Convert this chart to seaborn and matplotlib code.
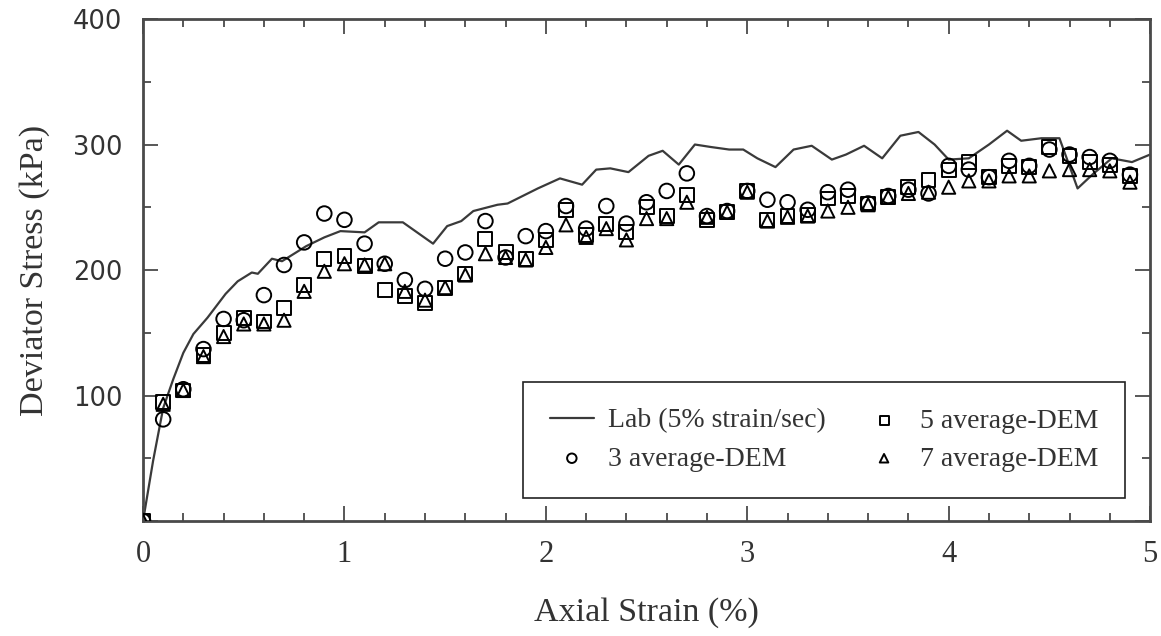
import numpy as np
import pandas as pd
import matplotlib
matplotlib.use("Agg")
import matplotlib.pyplot as plt
import seaborn as sns

# ---------------- data ----------------
strain = [round(0.1 * i, 1) for i in range(50)]

avg3 = [0, 81, 105, 137, 161, 160, 180, 204, 222, 245,
        240, 221, 205, 192, 185, 209, 214, 239, 210, 227,
        231, 251, 233, 251, 237, 254, 263, 277, 243, 247,
        263, 256, 254, 248, 262, 264, 253, 259, 264, 261,
        283, 280, 274, 287, 283, 296, 292, 290, 287, 276]

avg5 = [0, 95, 104, 132, 150, 162, 159, 170, 188, 209,
        211, 203, 184, 179, 174, 186, 197, 225, 214, 209,
        224, 248, 228, 237, 230, 250, 243, 260, 240, 246,
        263, 240, 243, 244, 257, 259, 253, 258, 266, 272,
        280, 286, 274, 283, 282, 298, 291, 286, 284, 275]

avg7 = [0, 93, 104, 131, 147, 157, 157, 160, 183, 199,
        205, 204, 205, 183, 176, 186, 196, 213, 210, 208,
        218, 236, 226, 233, 224, 241, 241, 254, 242, 246,
        262, 239, 242, 243, 247, 250, 252, 258, 261, 262,
        266, 271, 271, 275, 275, 279, 280, 280, 279, 270]

lab_strain = [0, 0.05, 0.1, 0.15, 0.2, 0.25, 0.32, 0.41, 0.47, 0.54,
              0.57, 0.64, 0.69, 0.81, 0.9, 0.98, 1.10, 1.17, 1.29, 1.44,
              1.51, 1.58, 1.64, 1.76, 1.81, 1.96, 2.07, 2.18, 2.25, 2.32,
              2.41, 2.51, 2.58, 2.66, 2.74, 2.82, 2.91, 2.98, 3.05, 3.14,
              3.23, 3.32, 3.42, 3.49, 3.58, 3.67, 3.76, 3.85, 3.93, 4.00,
              4.10, 4.20, 4.29, 4.36, 4.46, 4.55, 4.64, 4.72, 4.81, 4.91,
              5.0]
lab_stress = [0, 48, 90, 113, 134, 149, 162, 181, 191, 198,
              197, 209, 207, 219, 226, 231, 230, 238, 238, 221,
              235, 239, 247, 252, 253, 265, 273, 268, 280, 281,
              278, 291, 295, 284, 300, 298, 296, 296, 289, 282,
              296, 299, 288, 292, 299, 289, 307, 310, 300, 288,
              289, 300, 311, 303, 305, 305, 265, 277, 289, 286,
              292]

x_ticks = [0, 1, 2, 3, 4, 5]
y_ticks = [0, 100, 200, 300, 400]
y_tick_labels = ["", "100", "200", "300", "400"]

lab_label = "Lab (5% strain/sec)"
labels = ["3 average-DEM", "5 average-DEM", "7 average-DEM"]

# ---------------- style ----------------
sns.set_theme(style="ticks")
plt.rcParams["font.family"] = ["Liberation Serif", "DejaVu Serif"]

SPINE = "#4a4a4a"
TEXT = "#333333"

fig = plt.figure(figsize=(11.61, 6.36), dpi=100)
ax = fig.add_axes([0.1232, 0.1808, 0.8674, 0.7893])

df_lab = pd.DataFrame({"strain": lab_strain, "stress": lab_stress})
sns.lineplot(data=df_lab, x="strain", y="stress", ax=ax, color="#3a3a3a",
             linewidth=1.6, label=lab_label, sort=False)

df = pd.DataFrame({"strain": strain, "a3": avg3, "a5": avg5, "a7": avg7})
sns.scatterplot(data=df, x="strain", y="a3", ax=ax, marker="o", s=110,
                facecolors="none", edgecolors="black", linewidths=1.4,
                label=labels[0], zorder=3)
sns.scatterplot(data=df, x="strain", y="a5", ax=ax, marker="s", s=100,
                facecolors="none", edgecolors="black", linewidths=1.4,
                label=labels[1], zorder=3)
sns.scatterplot(data=df, x="strain", y="a7", ax=ax, marker="^", s=90,
                facecolors="none", edgecolors="black", linewidths=1.4,
                label=labels[2], zorder=3)

ax.set_xlim(0, 5)
ax.set_ylim(0, 400)
ax.set_xticks(x_ticks)
ax.set_xticklabels([str(t) for t in x_ticks], fontsize=22,
                   family=["Liberation Serif"], color=TEXT)
ax.set_yticks(y_ticks)
ax.set_yticklabels(y_tick_labels, fontsize=18.5, family=["DejaVu Sans"],
                   color=TEXT)
ax.set_xticks(np.arange(0, 5.01, 0.2), minor=True)
ax.set_yticks(np.arange(0, 401, 50), minor=True)

ax.tick_params(which="both", direction="in", top=True, right=True,
               color=SPINE, width=1.3)
ax.tick_params(which="major", length=11)
ax.tick_params(which="minor", length=6)
ax.tick_params(axis="x", which="major", pad=14)
ax.tick_params(axis="y", which="major", pad=15)

for sp in ax.spines.values():
    sp.set_color(SPINE)
    sp.set_linewidth(2.0)
    sp.set_visible(True)

ax.set_xlabel("Axial Strain (%)", fontsize=24.5, color=TEXT, labelpad=20)
ax.set_ylabel("Deviator Stress (kPa)", fontsize=24.5, color=TEXT, labelpad=16)

handles, labs = ax.get_legend_handles_labels()
order = [lab_label, labels[0], labels[1], labels[2]]
hmap = dict(zip(labs, handles))
leg = ax.legend([hmap[o] for o in order], order, ncol=2, loc="lower right",
                bbox_to_anchor=(0.975, 0.046), borderaxespad=0,
                fontsize=20, frameon=True,
                fancybox=False, edgecolor="#222222", framealpha=1,
                borderpad=0.95, labelspacing=0.45, columnspacing=1.3,
                handlelength=1.6, handletextpad=0.5, markerscale=0.65)
leg.get_frame().set_linewidth(1.2)
for t in leg.get_texts():
    t.set_color(TEXT)

fig.savefig("out.png", dpi=100)
